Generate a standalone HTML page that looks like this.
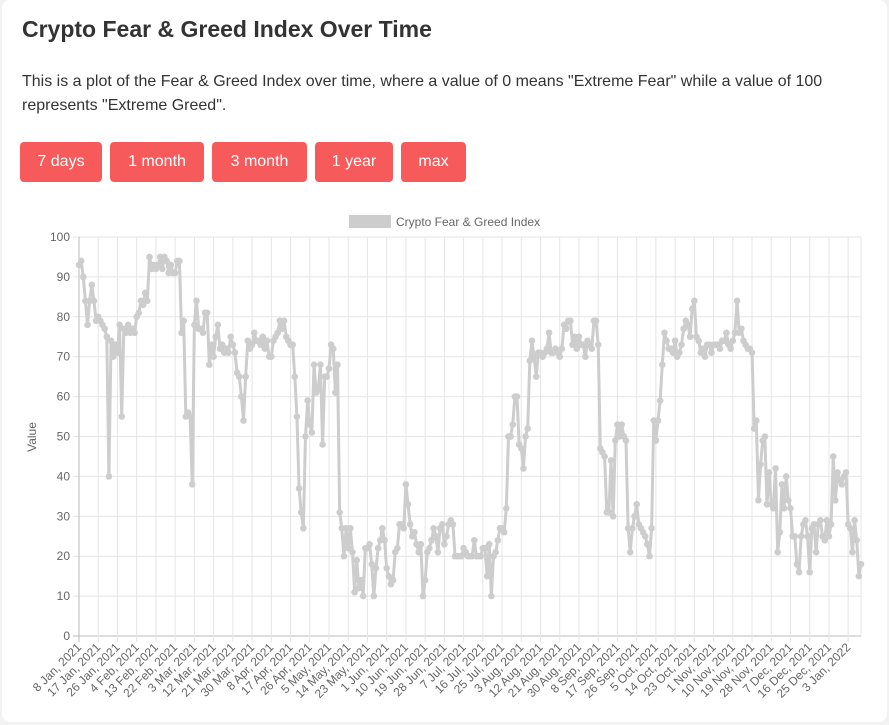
<!DOCTYPE html>
<html><head><meta charset="utf-8">
<style>
body{margin:0;background:#f2f2f2;font-family:"Liberation Sans",sans-serif;}
.card{position:absolute;left:2px;top:0;width:885px;height:722px;background:#fff;border-radius:8px;}
h1{position:absolute;left:20px;top:16px;margin:0;font-size:23px;font-weight:bold;color:#333;}
p{position:absolute;left:20px;top:70px;margin:0;width:840px;font-size:16px;line-height:24px;color:#333;}
.btn{position:absolute;top:142px;height:40px;background:#f75a5a;color:#fff;border:none;border-radius:4px;font-size:16px;font-family:"Liberation Sans",sans-serif;padding:0;}
svg{position:absolute;left:0;top:0;}
</style></head><body>
<div class="card">
<h1>Crypto Fear &amp; Greed Index Over Time</h1>
<p>This is a plot of the Fear &amp; Greed Index over time, where a value of 0 means "Extreme Fear" while a value of 100 represents "Extreme Greed".</p>
<button class="btn" style="left:18px;width:82px">7 days</button>
<button class="btn" style="left:108px;width:94px">1 month</button>
<button class="btn" style="left:210px;width:95px">3 month</button>
<button class="btn" style="left:313px;width:78px">1 year</button>
<button class="btn" style="left:399px;width:65px">max</button>
</div>
<svg id="chart" width="889" height="725"></svg>
<script>
const values = [93,94,90,84,78,84,88,84,79,
80,79,78,77,75,40,74,70,73,
71,78,55,77,76,78,76,77,76,
80,81,84,83,86,84,95,92,93,
92,93,95,92,95,94,91,93,91,
91,94,94,76,79,55,56,55,38,
78,84,77,77,76,81,81,68,73,
70,75,78,72,73,71,72,71,75,
73,71,66,65,60,54,65,74,72,
73,76,74,74,73,75,72,74,70,
70,74,75,76,79,77,79,75,74,
73,73,65,55,37,31,27,50,59,
53,51,68,61,62,68,48,65,65,
67,73,72,61,68,31,27,20,27,
22,27,21,11,19,12,14,10,22,
22,23,18,10,17,22,24,27,24,
17,15,13,14,21,22,28,28,27,
38,33,28,25,26,23,21,23,10,
14,21,22,24,27,25,21,27,28,
23,25,28,29,28,20,20,20,20,
22,21,20,20,20,24,20,20,20,
22,22,15,23,10,20,21,24,27,
27,26,32,50,50,53,60,60,48,
47,42,50,52,69,74,70,65,71,
71,70,71,72,76,71,71,72,71,
70,72,78,77,79,79,73,75,72,
75,73,73,70,74,73,72,79,79,
73,47,46,45,31,31,44,30,49,
53,50,53,50,49,27,21,27,30,
33,28,27,26,25,23,20,27,54,
49,54,59,68,76,74,72,72,71,
74,70,71,73,77,79,78,75,82,
84,75,74,71,72,70,73,73,71,
73,73,73,72,74,74,76,73,72,
74,76,84,76,77,74,73,72,72,
71,52,54,34,43,49,50,33,41,
33,32,42,21,26,38,32,40,34,
32,25,25,18,16,25,28,29,25,
16,27,28,21,28,29,25,24,29,
25,28,45,34,41,39,38,40,41,
28,27,21,29,24,15,18];
const yTicks = [0,10,20,30,40,50,60,70,80,90,100];
const startDate = [2021,0,8];
const labelStep = 9;
const months=["Jan","Feb","Mar","Apr","May","Jun","Jul","Aug","Sep","Oct","Nov","Dec"];
const svg=document.getElementById('chart');
const NS="http://www.w3.org/2000/svg";
const X0=79,X1=861,Y0=636,Y1=237;
const dx=(X1-X0)/(values.length-1);
const xs=i=>X0+i*dx;
const ys=v=>Y0-(v/100)*(Y0-Y1);
function mk(t,a){const e=document.createElementNS(NS,t);for(const k in a)e.setAttribute(k,a[k]);svg.appendChild(e);return e;}
// y grid
yTicks.forEach(v=>{
 const l=mk('line',{x1:X0-6,x2:X1,y1:ys(v),y2:ys(v),stroke:v===0?'#bbb':'#e5e5e5','stroke-width':1});
 
 
 const t=mk('text',{x:X0-9,y:ys(v)+4,'text-anchor':'end','font-size':12,fill:'#666','font-family':'Liberation Sans'});
 t.textContent=v;
 
 
});
// x grid & labels
for(let i=0;i<values.length;i+=labelStep){
 const x=xs(i);
 const l=mk('line',{x1:x,x2:x,y1:Y1,y2:Y0+6,stroke:i===0?'#bbb':'#e5e5e5','stroke-width':1});
 
 
 const d=new Date(Date.UTC(startDate[0],startDate[1],startDate[2]+i));
 const t=mk('text',{x:x+3,y:Y0+12,'text-anchor':'end','font-size':12,fill:'#666','font-family':'Liberation Sans',transform:`rotate(-45 ${x+3} ${Y0+12})`});
 t.textContent=d.getUTCDate()+' '+months[d.getUTCMonth()]+', '+d.getUTCFullYear();
 
 
}
mk('line',{x1:X1,x2:X1,y1:Y1,y2:Y0,stroke:'#e5e5e5'});
// line
const path=mk('polyline',{points:values.map((v,i)=>xs(i)+','+ys(v)).join(' '),fill:'none',stroke:'#cdcdcd','stroke-width':3,'stroke-linejoin':'round'});


values.forEach((v,i)=>{
 const c=mk('circle',{cx:xs(i),cy:ys(v),r:3.3,fill:'#cdcdcd'});
 
 
});
// y title
const yt=mk('text',{x:36,y:437,'text-anchor':'middle','font-size':12,fill:'#666','font-family':'Liberation Sans',transform:'rotate(-90 36 437)'});
yt.textContent='Value';


// legend
const lb=mk('rect',{x:349,y:215,width:42,height:13,fill:'#cdcdcd'});


const lt=mk('text',{x:396,y:226,'font-size':12,fill:'#666','font-family':'Liberation Sans'});
lt.textContent='Crypto Fear & Greed Index';


</script>
</body></html>
